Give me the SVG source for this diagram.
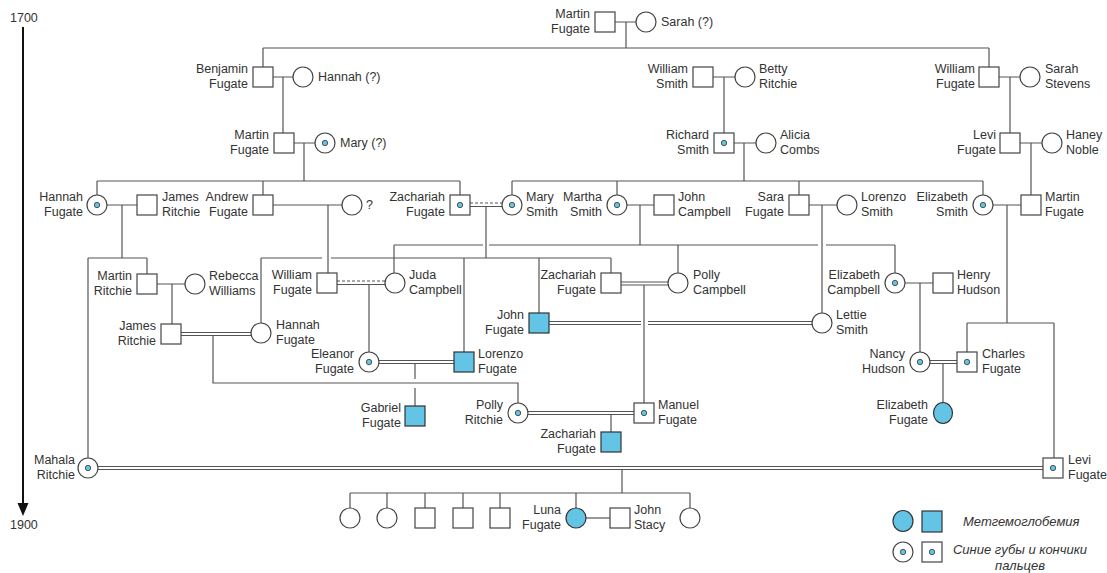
<svg xmlns="http://www.w3.org/2000/svg" width="1107" height="573" viewBox="0 0 1107 573">
<defs>
<style>
.s{fill:#fff;stroke:#444;stroke-width:1.2}
.a{fill:#63c4e6;stroke:#333;stroke-width:1.2}
.d{fill:#63c4e6;stroke:#333;stroke-width:0.8}
.ln{fill:none;stroke:#555;stroke-width:1.2}
.ds{fill:none;stroke:#555;stroke-width:1.2;stroke-dasharray:3 2}
text{font-family:"Liberation Sans",Arial,sans-serif;font-size:12.5px;fill:#333}
.r{text-anchor:end}
.lg{font-style:italic;font-size:13px}
.c{text-anchor:middle}
</style>
<marker id="arr" viewBox="0 0 10 10" refX="5" refY="10" markerWidth="10" markerHeight="12" markerUnits="userSpaceOnUse" orient="auto-start-reverse">
<path d="M0,0 L10,0 L5,10 Z" fill="#111"/>
</marker>
</defs>
<rect width="1107" height="573" fill="#fff"/>

<g id="timeline">
<text x="10" y="22">1700</text>
<line x1="23" y1="27" x2="23" y2="505" stroke="#111" stroke-width="2"/>
<path d="M17.5,503 L28.5,503 L23,516 Z" fill="#111"/>
<text x="10" y="529">1900</text>
</g>

<g id="connectors">
<path class="ln" d="M615,22H637M626,22V48M263,48H989M263,48V67M989,48V67"/>
<path class="ln" d="M273,77H293M283,77V133M713,77H735M724,77V133M999,77H1020M1010,77V133"/>
<path class="ln" d="M294,143H315M304,143V181M734,143H756M744,143V181M1020,143H1042M1031,143V195"/>
<path class="ln" d="M97,181H460M97,181V195M263,181V195M460,181V195"/>
<path class="ln" d="M512,181H983M512,181V195M617,181V195M799,181V195M983,181V195"/>
<path class="ln" d="M107,205H137M122,205V258M88,258H147M88,258V458M147,258V274"/>
<path class="ln" d="M273,205H342M328,205V273"/>
<path class="ds" d="M470,203H502"/>
<path class="ln" d="M470,206.5H502M486,206.5V258"/>
<path class="ln" d="M627,205H654M640,205V245"/>
<path class="ln" d="M809,205H837M822,205V313"/>
<path class="ln" d="M993,205H1021M1007,205V323M967,323H1054M967,323V352M1054,323V458"/>
<path class="ln" d="M394,245H483M489,245H818M826,245H895M394,245V273M678,245V273M895,245V273"/>
<path class="ln" d="M261,258H322M331,258H611M261,258V323M464,258V352M539,258V313M611,258V273"/>
<path class="ln" d="M157,284H185M172,284V324"/>
<path class="ds" d="M337,281H385"/>
<path class="ln" d="M337,284.5H385M369,284.5V352"/>
<path class="ln" d="M621,282H668M621,285H668M644,285V403"/>
<path class="ln" d="M905,283H933M920,283V352"/>
<path class="ln" d="M181,332.5H251M181,335.5H251M213,335.5V383H518V403"/>
<path class="ln" d="M549,321.5H641M549,324.5H641M648,321.5H812M648,324.5H812"/>
<path class="ln" d="M379,360.5H454M379,363.5H454M415,363.5V379M415,388V406"/>
<path class="ln" d="M930,360.5H957M930,363.5H957M943,363.5V403"/>
<path class="ln" d="M528,411.5H634M528,414.5H634M611,414.5V432"/>
<path class="ln" d="M98,466.5H1043M98,469.5H1043M622,469.5V493"/>
<path class="ln" d="M350,493H690M350,493V508M387,493V508M425,493V508M463,493V508M500,493V508M576,493V508M690,493V508"/>
<path class="ln" d="M586,518H610"/>
</g>

<g id="n_martin_fugate_1"><rect class="s" x="595" y="12" width="20" height="20"/><text class="r" x="590" y="18">Martin</text><text class="r" x="590" y="33">Fugate</text></g>
<g id="n_sarah"><circle class="s" cx="646" cy="22" r="10"/><text x="661" y="26">Sarah (?)</text></g>
<g id="n_benjamin"><rect class="s" x="253" y="67" width="20" height="20"/><text class="r" x="248" y="73">Benjamin</text><text class="r" x="248" y="88">Fugate</text></g>
<g id="n_hannah_q"><circle class="s" cx="303" cy="77" r="10"/><text x="318" y="81">Hannah (?)</text></g>
<g id="n_william_smith"><rect class="s" x="693" y="67" width="20" height="20"/><text class="r" x="688" y="73">William</text><text class="r" x="688" y="88">Smith</text></g>
<g id="n_betty"><circle class="s" cx="745" cy="77" r="10"/><text x="759" y="73">Betty</text><text x="759" y="88">Ritchie</text></g>
<g id="n_william_fugate"><rect class="s" x="979" y="67" width="20" height="20"/><text class="r" x="975" y="73">William</text><text class="r" x="975" y="88">Fugate</text></g>
<g id="n_sarah_stevens"><circle class="s" cx="1030" cy="77" r="10"/><text x="1045" y="73">Sarah</text><text x="1045" y="88">Stevens</text></g>
<g id="n_martin_fugate_2"><rect class="s" x="274" y="133" width="20" height="20"/><text class="r" x="269" y="139">Martin</text><text class="r" x="269" y="154">Fugate</text></g>
<g id="n_mary_q"><circle class="s" cx="325" cy="143" r="10"/><circle class="d" cx="325" cy="143" r="2.7"/><text x="340" y="147">Mary (?)</text></g>
<g id="n_richard"><rect class="s" x="714" y="133" width="20" height="20"/><circle class="d" cx="724" cy="143" r="2.7"/><text class="r" x="709" y="139">Richard</text><text class="r" x="709" y="154">Smith</text></g>
<g id="n_alicia"><circle class="s" cx="766" cy="143" r="10"/><text x="780" y="139">Alicia</text><text x="780" y="154">Combs</text></g>
<g id="n_levi_1"><rect class="s" x="1000" y="133" width="20" height="20"/><text class="r" x="996" y="139">Levi</text><text class="r" x="996" y="154">Fugate</text></g>
<g id="n_haney"><circle class="s" cx="1052" cy="143" r="10"/><text x="1066" y="139">Haney</text><text x="1066" y="154">Noble</text></g>

<g id="n_hannah_fugate_1"><circle class="s" cx="97" cy="205" r="10"/><circle class="d" cx="97" cy="205" r="2.7"/><text class="r" x="83" y="201">Hannah</text><text class="r" x="83" y="216">Fugate</text></g>
<g id="n_james_ritchie_1"><rect class="s" x="137" y="195" width="20" height="20"/><text x="162" y="201">James</text><text x="162" y="216">Ritchie</text></g>
<g id="n_andrew"><rect class="s" x="253" y="195" width="20" height="20"/><text class="r" x="248" y="201">Andrew</text><text class="r" x="248" y="216">Fugate</text></g>
<g id="n_unknown"><circle class="s" cx="352" cy="205" r="10"/><text x="366" y="209">?</text></g>
<g id="n_zachariah_1"><rect class="s" x="450" y="195" width="20" height="20"/><circle class="d" cx="460" cy="205" r="2.7"/><text class="r" x="445" y="201">Zachariah</text><text class="r" x="445" y="216">Fugate</text></g>
<g id="n_mary_smith"><circle class="s" cx="512" cy="205" r="10"/><circle class="d" cx="512" cy="205" r="2.7"/><text x="526" y="201">Mary</text><text x="526" y="216">Smith</text></g>
<g id="n_martha_smith"><circle class="s" cx="617" cy="205" r="10"/><circle class="d" cx="617" cy="205" r="2.7"/><text class="r" x="602" y="201">Martha</text><text class="r" x="602" y="216">Smith</text></g>
<g id="n_john_campbell"><rect class="s" x="654" y="195" width="20" height="20"/><text x="678" y="201">John</text><text x="678" y="216">Campbell</text></g>
<g id="n_sara_fugate"><rect class="s" x="789" y="195" width="20" height="20"/><text class="r" x="784" y="201">Sara</text><text class="r" x="784" y="216">Fugate</text></g>
<g id="n_lorenzo_smith"><circle class="s" cx="847" cy="205" r="10"/><text x="861" y="201">Lorenzo</text><text x="861" y="216">Smith</text></g>
<g id="n_elizabeth_smith"><circle class="s" cx="983" cy="205" r="10"/><circle class="d" cx="983" cy="205" r="2.7"/><text class="r" x="968" y="201">Elizabeth</text><text class="r" x="968" y="216">Smith</text></g>
<g id="n_martin_fugate_3"><rect class="s" x="1021" y="195" width="20" height="20"/><text x="1045" y="201">Martin</text><text x="1045" y="216">Fugate</text></g>

<g id="n_martin_ritchie"><rect class="s" x="137" y="274" width="20" height="20"/><text class="r" x="132" y="280">Martin</text><text class="r" x="132" y="295">Ritchie</text></g>
<g id="n_rebecca"><circle class="s" cx="195" cy="284" r="10"/><text x="209" y="280">Rebecca</text><text x="209" y="295">Williams</text></g>
<g id="n_william_fugate_2"><rect class="s" x="317" y="273" width="20" height="20"/><text class="r" x="312" y="279">William</text><text class="r" x="312" y="294">Fugate</text></g>
<g id="n_juda"><circle class="s" cx="395" cy="283" r="10"/><text x="409" y="279">Juda</text><text x="409" y="294">Campbell</text></g>
<g id="n_zachariah_2"><rect class="s" x="601" y="273" width="20" height="20"/><text class="r" x="596" y="279">Zachariah</text><text class="r" x="596" y="294">Fugate</text></g>
<g id="n_polly_campbell"><circle class="s" cx="678" cy="283" r="10"/><text x="693" y="279">Polly</text><text x="693" y="294">Campbell</text></g>
<g id="n_elizabeth_campbell"><circle class="s" cx="895" cy="283" r="10"/><circle class="d" cx="895" cy="283" r="2.7"/><text class="r" x="880" y="279">Elizabeth</text><text class="r" x="880" y="294">Campbell</text></g>
<g id="n_henry"><rect class="s" x="933" y="273" width="20" height="20"/><text x="957" y="279">Henry</text><text x="957" y="294">Hudson</text></g>

<g id="n_james_ritchie_2"><rect class="s" x="161" y="324" width="20" height="20"/><text class="r" x="156" y="330">James</text><text class="r" x="156" y="345">Ritchie</text></g>
<g id="n_hannah_fugate_2"><circle class="s" cx="261" cy="333" r="10"/><text x="276" y="329">Hannah</text><text x="276" y="344">Fugate</text></g>
<g id="n_john_fugate"><rect class="a" x="529" y="313" width="20" height="20"/><text class="r" x="524" y="319">John</text><text class="r" x="524" y="334">Fugate</text></g>
<g id="n_lettie"><circle class="s" cx="822" cy="323" r="10"/><text x="836" y="319">Lettie</text><text x="836" y="334">Smith</text></g>
<g id="n_eleanor"><circle class="s" cx="369" cy="362" r="10"/><circle class="d" cx="369" cy="362" r="2.7"/><text class="r" x="354" y="358">Eleanor</text><text class="r" x="354" y="373">Fugate</text></g>
<g id="n_lorenzo_fugate"><rect class="a" x="454" y="352" width="20" height="20"/><text x="478" y="358">Lorenzo</text><text x="478" y="373">Fugate</text></g>
<g id="n_nancy"><circle class="s" cx="920" cy="362" r="10"/><circle class="d" cx="920" cy="362" r="2.7"/><text class="r" x="905" y="358">Nancy</text><text class="r" x="905" y="373">Hudson</text></g>
<g id="n_charles"><rect class="s" x="957" y="352" width="20" height="20"/><circle class="d" cx="967" cy="362" r="2.7"/><text x="982" y="358">Charles</text><text x="982" y="373">Fugate</text></g>

<g id="n_gabriel"><rect class="a" x="405" y="406" width="20" height="20"/><text class="r" x="401" y="412">Gabriel</text><text class="r" x="401" y="427">Fugate</text></g>
<g id="n_polly_ritchie"><circle class="s" cx="518" cy="413" r="10"/><circle class="d" cx="518" cy="413" r="2.7"/><text class="r" x="503" y="409">Polly</text><text class="r" x="503" y="424">Ritchie</text></g>
<g id="n_manuel"><rect class="s" x="634" y="403" width="20" height="20"/><circle class="d" cx="644" cy="413" r="2.7"/><text x="658" y="409">Manuel</text><text x="658" y="424">Fugate</text></g>
<g id="n_zachariah_3"><rect class="a" x="601" y="432" width="20" height="20"/><text class="r" x="596" y="438">Zachariah</text><text class="r" x="596" y="453">Fugate</text></g>
<g id="n_elizabeth_fugate"><ellipse class="a" cx="943" cy="413" rx="9.5" ry="10.5"/><text class="r" x="928" y="409">Elizabeth</text><text class="r" x="928" y="424">Fugate</text></g>
<g id="n_mahala"><circle class="s" cx="88" cy="468" r="10"/><circle class="d" cx="88" cy="468" r="2.7"/><text class="r" x="75" y="464">Mahala</text><text class="r" x="75" y="479">Ritchie</text></g>
<g id="n_levi_2"><rect class="s" x="1043" y="458" width="20" height="20"/><circle class="d" cx="1053" cy="468" r="2.7"/><text x="1068" y="464">Levi</text><text x="1068" y="479">Fugate</text></g>

<g id="n_child_1"><circle class="s" cx="350" cy="518" r="10"/></g>
<g id="n_child_2"><circle class="s" cx="387" cy="518" r="10"/></g>
<g id="n_child_3"><rect class="s" x="415" y="508" width="20" height="20"/></g>
<g id="n_child_4"><rect class="s" x="453" y="508" width="20" height="20"/></g>
<g id="n_child_5"><rect class="s" x="490" y="508" width="20" height="20"/></g>
<g id="n_luna"><circle class="a" cx="576" cy="518" r="10"/><text class="r" x="561" y="514">Luna</text><text class="r" x="561" y="529">Fugate</text></g>
<g id="n_john_stacy"><rect class="s" x="610" y="508" width="20" height="20"/><text x="634" y="514">John</text><text x="634" y="529">Stacy</text></g>
<g id="n_child_8"><circle class="s" cx="690" cy="518" r="10"/></g>

<g id="legend">
<ellipse class="a" cx="903" cy="521" rx="10" ry="10.5"/>
<rect class="a" x="922" y="511" width="20" height="21"/>
<text class="lg" x="963" y="526">Метгемоглобемия</text>
<circle class="s" cx="903" cy="552" r="10"/><circle class="d" cx="903" cy="552" r="2.7"/>
<rect class="s" x="922" y="542" width="20" height="20"/><circle class="d" cx="932" cy="552" r="2.7"/>
<text class="lg c" x="1020" y="554">Синие губы и кончики</text>
<text class="lg c" x="1020" y="570">пальцев</text>
</g>
</svg>
